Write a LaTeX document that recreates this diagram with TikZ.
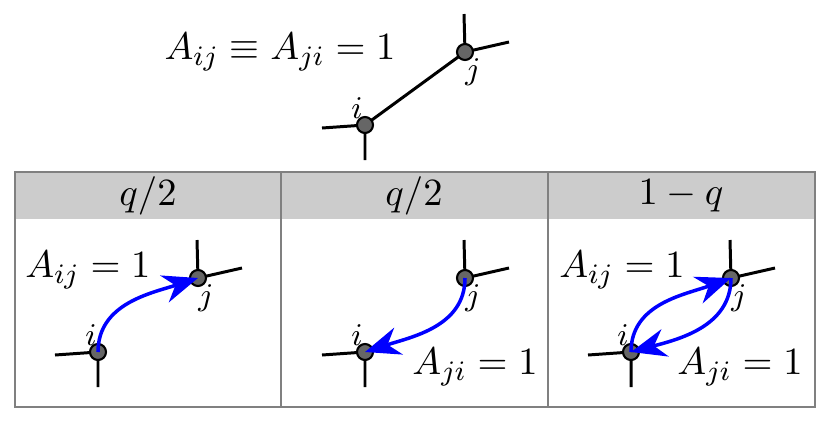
\documentclass[tikz,border=0pt]{standalone}
\usepackage{xcolor}
\usetikzlibrary{arrows.meta}

\begin{document}
\begin{tikzpicture}[x=0.01cm,y=0.01cm,
    vert/.style={circle, draw=black, fill=black!60, inner sep=0pt, minimum size=0.16cm, line width=0.6pt},
    leg/.style={black, line width=0.85pt},
    bond/.style={blue, line width=1pt, -{Stealth[length=10pt,width=8pt]}},
    big/.style={font=\fontsize{11}{13}\selectfont},
    idx/.style={font=\small, inner sep=0pt}]
    \useasboundingbox (0,0) rectangle (830,423);

    %% table
    \fill[black!20] (15,204) rectangle (815,251);
    \draw[black!50, line width=0.3pt] (15,16) rectangle (815,251);
    \draw[black!50, line width=0.3pt] (281,16) -- (281,251);
    \draw[black!50, line width=0.3pt] (548,16) -- (548,251);
    \node[big] (h1) at (148,227) {$q/2$};
    \node[big] (h2) at (414,227) {$q/2$};
    \node[big] (h3) at (681,227) {$1-q$};

    %% top: undirected link
    \node[big] (sym) at (280,371) {$A_{ij}\equiv A_{ji}=1$};
    \coordinate (ci0) at (365,298);
    \coordinate (cj0) at (465,371);
    \draw[leg] (322,295) -- (ci0) -- (365,263);
    \draw[leg] (464,409) -- (cj0) -- (509,381);
    \draw[leg] (ci0) -- (cj0);
    \node[vert] (i0) at (ci0) {};
    \node[vert] (j0) at (cj0) {};
    \node[idx] (ti0) at (357,315) {$i$};
    \node[idx] (tj0) at (473,351) {$j$};

    % q/2 : i -> j
    \coordinate (ci1) at (98,71);
    \coordinate (cj1) at (198,145);
    \draw[leg] (55,68) -- (ci1) -- (98,36);
    \draw[leg] (197,183) -- (cj1) -- (242,155);
    \node[vert] (i1) at (ci1) {};
    \node[vert] (j1) at (cj1) {};
    \node[idx] (ti1) at (91,88) {$i$};
    \node[idx] (tj1) at (206,125) {$j$};
    \draw[bond] (i1.center) to[out=90, in=198] (j1.center);
    \node[big] (a1) at (88,153) {$A_{ij}=1$};

    % q/2 : j -> i
    \coordinate (ci2) at (365,71);
    \coordinate (cj2) at (465,145);
    \draw[leg] (322,68) -- (ci2) -- (365,36);
    \draw[leg] (464,183) -- (cj2) -- (509,155);
    \node[vert] (i2) at (ci2) {};
    \node[vert] (j2) at (cj2) {};
    \node[idx] (ti2) at (357,88) {$i$};
    \node[idx] (tj2) at (473,125) {$j$};
    \draw[bond] (j2.center) to[out=-90, in=18] (i2.center);
    \node[big] (a2) at (475,56) {$A_{ji}=1$};

    % 1-q : both
    \coordinate (ci3) at (631,71);
    \coordinate (cj3) at (731,145);
    \draw[leg] (588,68) -- (ci3) -- (631,36);
    \draw[leg] (730,183) -- (cj3) -- (775,155);
    \node[vert] (i3) at (ci3) {};
    \node[vert] (j3) at (cj3) {};
    \node[idx] (ti3) at (623,88) {$i$};
    \node[idx] (tj3) at (739,125) {$j$};
    \draw[bond] (i3.center) to[out=90, in=200] (j3.center);
    \draw[bond] (j3.center) to[out=-90, in=15] (i3.center);
    \node[big] (a3) at (622,153) {$A_{ij}=1$};
    \node[big] (a4) at (740,56) {$A_{ji}=1$};

\end{tikzpicture}
\end{document}
